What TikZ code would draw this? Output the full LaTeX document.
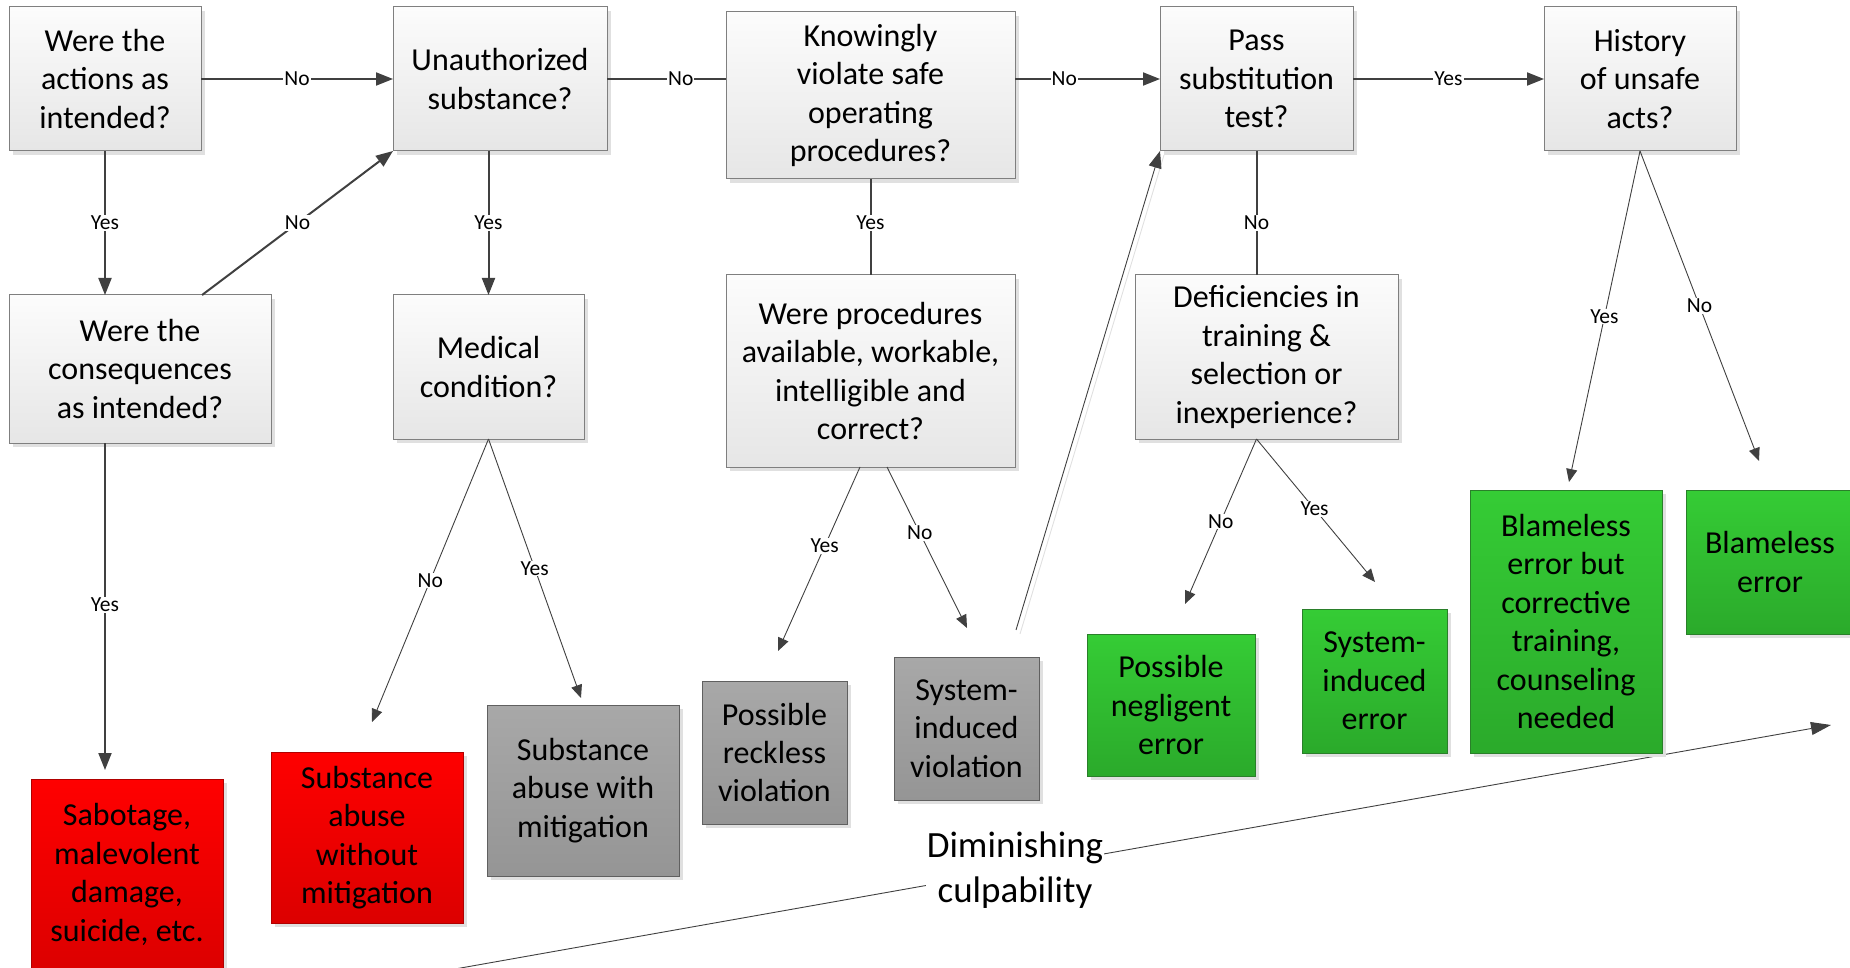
\documentclass[tikz,border=0pt]{standalone}
\usepackage{fontspec}
\setmainfont{Carlito}
\usetikzlibrary{arrows.meta,shadows,calc}
\definecolor{qborder}{HTML}{7F7F7F}
\definecolor{qtop}{HTML}{FCFCFC}
\definecolor{qbot}{HTML}{E6E6E6}
\definecolor{redtop}{HTML}{FF0000}
\definecolor{redbot}{HTML}{DC0000}
\definecolor{redborder}{HTML}{B00000}
\definecolor{graytop}{HTML}{A8A8A8}
\definecolor{graybot}{HTML}{959595}
\definecolor{grayborder}{HTML}{606060}
\definecolor{greentop}{HTML}{35CC35}
\definecolor{greenbot}{HTML}{2BAA2B}
\definecolor{greenborder}{HTML}{2A7F2A}
\definecolor{conn}{HTML}{404040}
\definecolor{shadowc}{HTML}{E0E0E0}
\newcommand\qfont{\fontsize{32}{38.4}\selectfont}
\newcommand\lblfont{\fontsize{21.5}{25}\selectfont}
\newcommand\dimfont{\fontsize{37}{45}\selectfont}
\begin{document}
\begin{tikzpicture}[x=1pt,y=-1pt,
  nbox/.style 2 args={minimum width=#1pt, minimum height=#2pt, align=center, font=\qfont,
    inner sep=2pt, outer sep=0pt, line width=1pt,
    drop shadow={shadow xshift=4pt, shadow yshift=-4pt, fill=shadowc, opacity=1}},
  qbox/.style={draw=qborder, top color=qtop, bottom color=qbot},
  redbox/.style={draw=redborder, top color=redtop, bottom color=redbot},
  graybox/.style={draw=grayborder, top color=graytop, bottom color=graybot},
  greenbox/.style={draw=greenborder, top color=greentop, bottom color=greenbot},
  thickline/.style={draw=conn, line width=2pt},
  thickarrow/.style={thickline, -{Triangle[length=17pt,width=13pt]}},
  thinline/.style={draw=conn, line width=0.9pt},
  thinarrow/.style={thinline, -{Triangle[length=13pt,width=11pt]}},
  lbl/.style={font=\lblfont, fill=white, inner sep=1pt, text=black}
]
\useasboundingbox (0,0) rectangle (1850,968);
\clip (0,0) rectangle (1850,968);

% diminishing culpability arrow (behind everything)
\coordinate (d0) at (455,969);
\coordinate (d1) at (1831,725);
\draw[thinline, -{Triangle[length=20pt,width=13pt]}] (d0) -- (d1);
\node[fill=white, inner sep=1pt, font=\dimfont, align=center] (dim) at (1015,870) {Diminishing\\culpability};

% question boxes
\node[nbox={192}{144}, qbox] (b1) at (105,79) {Were the\\actions as\\intended?};
\node[nbox={214}{144}, qbox] (b2) at (500,79) {Unauthorized\\substance?};
\node[nbox={289}{167}, qbox] (kn) at (870.5,95.5) {Knowingly\\violate safe\\operating\\procedures?};
\node[nbox={193}{144}, qbox] (pa) at (1256.5,79) {Pass\\substitution\\test?};
\node[nbox={192}{144}, qbox] (hi) at (1640,79) {History\\of unsafe\\acts?};
\node[nbox={262}{148}, qbox] (cq) at (140,369) {Were the\\consequences\\as intended?};
\node[nbox={191}{144}, qbox] (md) at (488.5,367) {Medical\\condition?};
\node[nbox={289}{192}, qbox] (pr) at (870.5,371) {Were procedures\\available, workable,\\intelligible and\\correct?};
\node[nbox={263}{164}, qbox] (df) at (1266.5,357) {Deficiencies in\\training \&\\selection or\\inexperience?};

% outcome boxes
\node[nbox={192}{191}, redbox] (sab) at (127,874.5) {Sabotage,\\malevolent\\damage,\\suicide, etc.};
\node[nbox={192}{171}, redbox] (swo) at (367,837.5) {Substance\\abuse\\without\\mitigation};
\node[nbox={192}{171}, graybox] (swi) at (583,790.5) {Substance\\abuse with\\mitigation};
\node[nbox={145}{143}, graybox] (rck) at (774.5,752.5) {Possible\\reckless\\violation};
\node[nbox={145}{143}, graybox] (siv) at (966.5,728.5) {System-\\induced\\violation};
\node[nbox={168}{142}, greenbox] (neg) at (1171,705) {Possible\\negligent\\error};
\node[nbox={145}{144}, greenbox] (sie) at (1374.5,681) {System-\\induced\\error};
\node[nbox={192}{263}, greenbox] (bcc) at (1566,621.5) {Blameless\\error but\\corrective\\training,\\counseling\\needed};
\node[nbox={168}{144}, greenbox] (ble) at (1770,562) {Blameless\\error};

% free ends of connectors
\coordinate (t1) at (105,770);
\coordinate (t2) at (372,722);
\coordinate (t3) at (581,698);
\coordinate (t4) at (778,651);
\coordinate (t5) at (967,628);
\coordinate (t6) at (1185,604);
\coordinate (t7) at (1375,582);
\coordinate (t8) at (1569,482);
\coordinate (t9) at (1759,461);
\coordinate (s1) at (1016,630);

% top connectors
\draw[thickarrow] (b1.east) -- node[lbl]{No} (b2.west);
\draw[thickarrow] (b1.south) -- node[lbl]{Yes} (b1.south |- cq.north);
\draw[thickarrow] ($(cq.north west)!0.737!(cq.north east)$) -- node[lbl]{No} (b2.south west);
\draw[thickarrow] (md.north |- b2.south) -- node[lbl]{Yes} (md.north);
\draw[thickline] (b2.east) -- node[lbl,pos=0.62]{No} (b2.east -| kn.west);
\draw[thickarrow] (kn.east |- pa.west) -- node[lbl,pos=0.34]{No} (pa.west);
\draw[thickline] (kn.south) -- node[lbl,pos=0.46]{Yes} (pr.north);
\draw[thickarrow] (pa.east) -- node[lbl]{Yes} (hi.west);
\draw[thickline] (pa.south) -- node[lbl,pos=0.58]{No} (pa.south |- df.north);
\draw[thickarrow] (b1.south |- cq.south) -- node[lbl,pos=0.495]{Yes} (t1);

% thin connectors
\draw[thinarrow] (md.south) -- node[lbl]{No} (t2);
\draw[thinarrow] (md.south) -- node[lbl]{Yes} (t3);
\draw[thinarrow] ([xshift=-10.5pt]pr.south) -- node[lbl,pos=0.43]{Yes} (t4);
\draw[thinarrow] ([xshift=16.5pt]pr.south) -- node[lbl,pos=0.41]{No} (t5);
\draw[thinarrow] (pa.south |- df.south) -- node[lbl]{No} (t6);
\draw[thinarrow] (pa.south |- df.south) -- node[lbl,pos=0.49]{Yes} (t7);
\draw[thinarrow] (hi.south) -- node[lbl]{Yes} (t8);
\draw[thinarrow] (hi.south) -- node[lbl]{No} (t9);

% long arrow from system-induced violation back to the substitution test
\draw[shadowc, line width=0.9pt, transform canvas={xshift=4pt,yshift=-4pt}] (s1) -- (pa.south west);
\draw[thinline, -{Triangle[length=17pt,width=13pt]}] (s1) -- (pa.south west);
\end{tikzpicture}
\end{document}
